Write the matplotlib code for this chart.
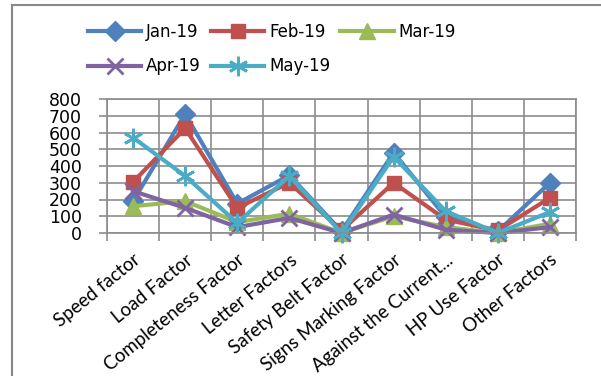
import numpy as np
import matplotlib.pyplot as plt
from matplotlib.patches import Rectangle

# categories and monthly values
factors = ["Speed factor", "Load Factor", "Completeness Factor", "Letter Factors",
           "Safety Belt Factor", "Signs Marking Factor", "Against the Current...",
           "HP Use Factor", "Other Factors"]
jan_19 = [190, 710, 175, 345, 10, 480, 95, 10, 300]
feb_19 = [305, 625, 150, 300, 15, 300, 80, 15, 210]
mar_19 = [160, 190, 65, 115, 0, 100, 35, 0, 55]
apr_19 = [250, 150, 35, 90, 0, 110, 20, 0, 35]
may_19 = [570, 340, 60, 340, 0, 455, 130, 0, 125]
y_ticks = [0, 100, 200, 300, 400, 500, 600, 700, 800]

series = [
    ("Jan-19", jan_19, "#4F81BD", "D", 10),
    ("Feb-19", feb_19, "#C0504D", "s", 10),
    ("Mar-19", mar_19, "#9BBB59", "^", 11),
    ("Apr-19", apr_19, "#8064A2", "x", 11),
    ("May-19", may_19, "#4BACC6", (6, 2, 0), 14),
]

GRID = "#8C8C8C"

fig = plt.figure(figsize=(6.01, 3.76), dpi=100)
ax = fig.add_axes([107 / 601, 1 - 233 / 376, 469 / 601, 134 / 376])

x = np.arange(len(factors))
handles = {}
for name, vals, color, mk, ms in series:
    thin = mk == "x" or isinstance(mk, tuple)
    line, = ax.plot(x, vals, color=color, lw=3, marker=mk, markersize=ms,
                    markeredgewidth=2 if thin else 1, markeredgecolor=color,
                    label=name, clip_on=False)
    handles[name] = line

ax.set_xlim(-0.5, len(factors) - 0.5)
ax.set_ylim(0, 800)
ax.set_yticks(y_ticks)
ax.set_yticklabels([str(v) for v in y_ticks], fontsize=12.5, family="DejaVu Sans")

# category labels sit at centers, grid/tick marks at the boundaries
ax.set_xticks(x)
ax.set_xticklabels(factors, rotation=39, ha="right", rotation_mode="anchor",
                   fontsize=13.5, family="Lato")
ax.set_xticks(np.arange(-0.5, len(factors)), minor=True)
ax.tick_params(axis="x", which="major", length=0, pad=13)
ax.tick_params(axis="x", which="minor", length=6, color=GRID, width=1.2)
ax.tick_params(axis="y", length=6, color=GRID, width=1.2, pad=12)
ax.grid(True, axis="y", color=GRID, lw=1.2)
ax.grid(True, axis="x", which="minor", color=GRID, lw=1.2)
ax.set_axisbelow(True)
for sp in ax.spines.values():
    sp.set_color(GRID)
    sp.set_linewidth(1.2)

# legend laid out row by row: Jan Feb Mar / Apr May
order = ["Jan-19", "Apr-19", "Feb-19", "May-19", "Mar-19"]
fig.legend([handles[n] for n in order], order, ncol=3, loc="center",
           bbox_to_anchor=(272 / 601, 1 - 49 / 376), frameon=False,
           prop={"family": "DejaVu Sans", "size": 12}, handlelength=3.2,
           handletextpad=0.3, columnspacing=0.6, labelspacing=1.0)

# outer chart border (cut off at right and bottom, like the reference)
fig.patches.append(Rectangle((12 / 601, -0.1), 1.2, 1.1 - 5 / 376, transform=fig.transFigure,
                             fill=False, edgecolor="#888888", lw=1.5))

fig.savefig("out.png", dpi=100)
